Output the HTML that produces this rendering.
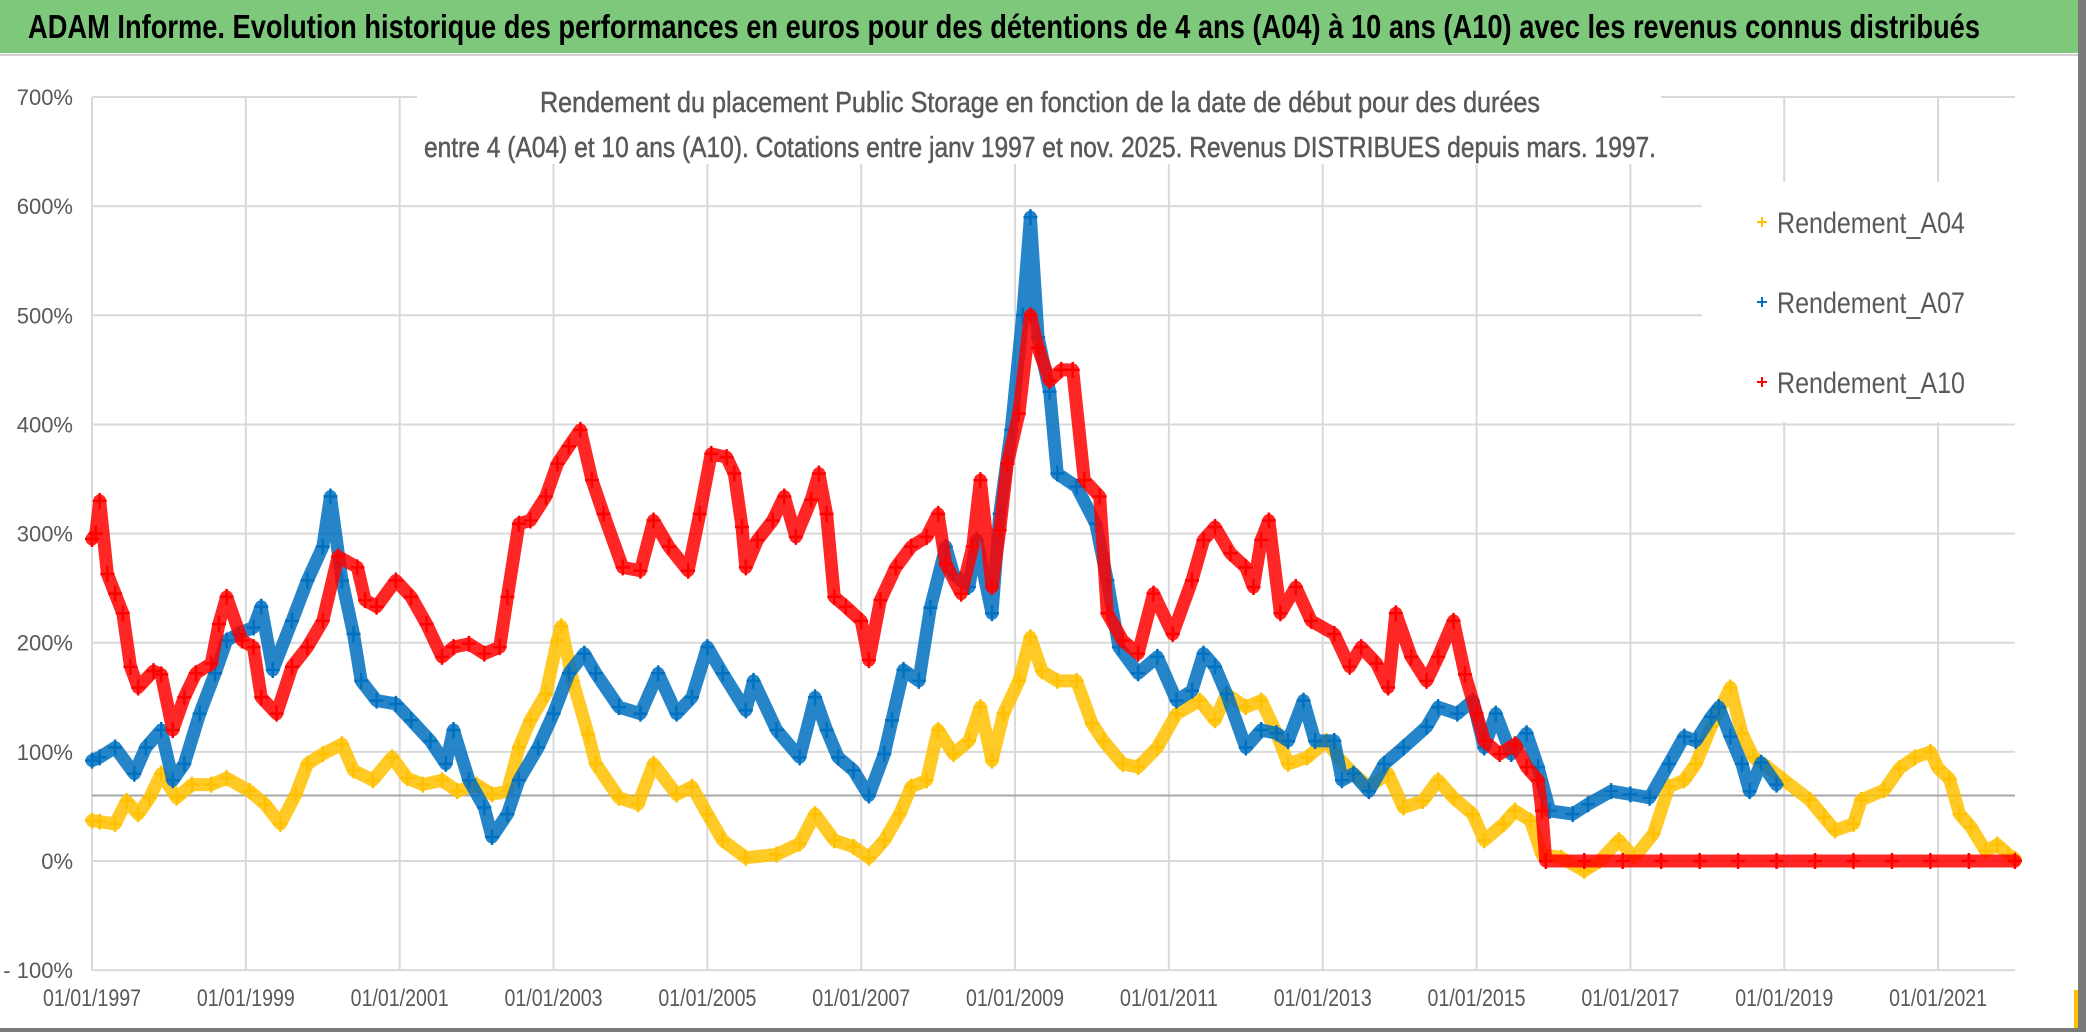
<!DOCTYPE html>
<html><head><meta charset="utf-8"><style>
html,body{margin:0;padding:0;background:#fff;}
svg{display:block;}
text{font-family:"Liberation Sans",sans-serif;}
</style></head><body>
<svg id="chart" width="2086" height="1032" viewBox="0 0 2086 1032">
<rect x="0" y="0" width="2086" height="1032" fill="#ffffff"/>
<rect x="0" y="0" width="2086" height="53" fill="#7dc87b"/>
<line x1="0" y1="55" x2="2078" y2="55" stroke="#d0d0d0" stroke-width="2"/>
<text x="28" y="38" font-size="33" font-weight="bold" fill="#000" textLength="1952" lengthAdjust="spacingAndGlyphs">ADAM Informe. Evolution historique des performances en euros pour des détentions de 4 ans (A04) à 10 ans (A10) avec les revenus connus distribués</text>
<rect x="2078" y="0" width="8" height="1032" fill="#7a7a7a"/>
<rect x="2074" y="990" width="4" height="38" fill="#ffc000"/>
<rect x="0" y="1028" width="2086" height="4" fill="#7a7a7a"/>
<g id="grid"></g>
<g id="series"></g>
<rect x="417" y="80" width="1244" height="84" fill="#fff"/>
<text x="1040" y="112" text-anchor="middle" font-size="29" fill="#595959" stroke="#595959" stroke-width="0.5" textLength="1000" lengthAdjust="spacingAndGlyphs">Rendement du placement Public Storage en fonction de la date de début pour des durées</text>
<text x="1040" y="157" text-anchor="middle" font-size="29" fill="#595959" stroke="#595959" stroke-width="0.5" textLength="1232" lengthAdjust="spacingAndGlyphs">entre 4 (A04) et 10 ans (A10). Cotations entre janv 1997 et nov. 2025. Revenus DISTRIBUES depuis mars. 1997.</text>
<g id="axes"></g>
<rect x="1702" y="182" width="313" height="240" fill="#fff"/>
<g id="legend"></g>
</svg>
<script>
const yTicks = [-100,0,100,200,300,400,500,600,700];
const yTickLabels = ["- 100%","0%","100%","200%","300%","400%","500%","600%","700%"];
const xTicks = [1997,1999,2001,2003,2005,2007,2009,2011,2013,2015,2017,2019,2021];
const xTickLabels = ["01/01/1997","01/01/1999","01/01/2001","01/01/2003","01/01/2005","01/01/2007","01/01/2009","01/01/2011","01/01/2013","01/01/2015","01/01/2017","01/01/2019","01/01/2021"];
const seriesNames = ["Rendement_A04","Rendement_A07","Rendement_A10"];
const refLineValue = 60;

const a04Years = [1997.0,1997.1,1997.3,1997.45,1997.6,1997.75,1997.9,1998.1,1998.3,1998.55,1998.75,1999.05,1999.25,1999.45,1999.65,1999.8,2000.0,2000.25,2000.4,2000.65,2000.9,2001.1,2001.3,2001.55,2001.75,2002.0,2002.2,2002.4,2002.55,2002.7,2002.9,2003.05,2003.1,2003.25,2003.45,2003.55,2003.85,2004.1,2004.3,2004.6,2004.8,2005.0,2005.2,2005.5,2005.9,2006.2,2006.4,2006.65,2006.9,2007.1,2007.3,2007.5,2007.65,2007.85,2008.0,2008.2,2008.4,2008.55,2008.7,2008.85,2009.05,2009.2,2009.35,2009.55,2009.8,2010.0,2010.15,2010.4,2010.6,2010.85,2011.1,2011.4,2011.6,2011.75,2012.0,2012.2,2012.4,2012.55,2012.8,2013.05,2013.2,2013.4,2013.6,2013.85,2014.05,2014.3,2014.5,2014.7,2014.95,2015.1,2015.35,2015.5,2015.7,2015.85,2016.1,2016.4,2016.6,2016.85,2017.05,2017.3,2017.5,2017.7,2017.85,2018.05,2018.3,2018.45,2018.6,2018.8,2019.0,2019.33,2019.52,2019.66,2019.9,2020.0,2020.3,2020.5,2020.7,2020.9,2021.0,2021.15,2021.28,2021.43,2021.62,2021.77,2021.91,2022.0];
const a04Values = [37,36,34,55,43,58,80,58,70,70,76,64,52,34,61,89,98,107,83,74,95,76,70,74,64,70,61,64,104,129,153,202,215,165,116,89,58,52,89,61,68,43,19,3,6,16,43,19,13,3,19,43,68,74,120,98,110,141,92,135,165,205,174,165,165,126,110,89,86,104,135,147,129,153,141,147,117,89,95,110,95,80,68,80,49,55,74,58,43,19,34,46,37,6,3,-9,0,19,3,25,68,74,89,123,159,117,95,85,74,56,40,28,34,56,65,85,95,100,85,75,43,31,9,15,6,2];

const a07Years = [1997.0,1997.1,1997.3,1997.55,1997.7,1997.9,1998.05,1998.2,1998.4,1998.6,1998.75,1998.9,1999.1,1999.2,1999.35,1999.6,1999.8,2000.0,2000.1,2000.25,2000.4,2000.5,2000.7,2000.95,2001.15,2001.4,2001.6,2001.7,2001.9,2002.1,2002.2,2002.4,2002.55,2002.8,2003.0,2003.2,2003.4,2003.55,2003.85,2004.13,2004.36,2004.6,2004.8,2005.0,2005.2,2005.5,2005.6,2005.9,2006.2,2006.4,2006.55,2006.7,2006.9,2007.1,2007.3,2007.4,2007.55,2007.75,2007.9,2008.1,2008.2,2008.4,2008.5,2008.7,2008.8,2008.95,2009.1,2009.2,2009.3,2009.45,2009.55,2009.8,2010.05,2010.2,2010.35,2010.6,2010.85,2011.1,2011.3,2011.45,2011.6,2011.75,2012.0,2012.2,2012.4,2012.55,2012.75,2012.9,2013.15,2013.25,2013.4,2013.6,2013.8,2014.05,2014.35,2014.5,2014.75,2014.95,2015.1,2015.25,2015.45,2015.65,2015.8,2015.95,2016.25,2016.45,2016.75,2017.0,2017.25,2017.5,2017.7,2017.85,2018.05,2018.15,2018.3,2018.45,2018.55,2018.7,2018.9];
const a07Values = [92,95,104,80,104,120,74,89,135,172,202,208,214,233,175,220,257,288,334,257,208,165,147,144,129,110,89,120,74,49,22,43,74,104,135,172,190,172,141,135,172,135,150,196,172,138,165,120,95,150,120,95,83,60,98,129,175,165,232,288,263,251,294,227,318,395,500,590,480,430,355,343,309,257,196,172,187,147,156,190,178,153,104,120,117,110,147,110,110,74,80,64,89,104,123,141,135,147,104,135,98,117,86,46,43,52,64,61,58,89,114,110,132,141,114,89,64,90,70];

const a10Years = [1997.0,1997.05,1997.1,1997.2,1997.3,1997.4,1997.5,1997.6,1997.8,1997.9,1998.05,1998.2,1998.35,1998.55,1998.65,1998.75,1998.95,1999.1,1999.2,1999.4,1999.6,1999.8,2000.0,2000.2,2000.45,2000.55,2000.7,2000.95,2001.15,2001.35,2001.55,2001.7,2001.9,2002.1,2002.3,2002.4,2002.55,2002.7,2002.9,2003.05,2003.2,2003.35,2003.5,2003.65,2003.9,2004.13,2004.3,2004.5,2004.75,2004.9,2005.05,2005.25,2005.35,2005.45,2005.5,2005.65,2005.85,2006.0,2006.15,2006.35,2006.45,2006.55,2006.65,2006.8,2007.0,2007.1,2007.25,2007.45,2007.65,2007.85,2008.0,2008.1,2008.3,2008.45,2008.55,2008.7,2008.8,2008.9,2009.05,2009.2,2009.3,2009.45,2009.6,2009.75,2009.9,2010.1,2010.2,2010.4,2010.6,2010.8,2011.05,2011.3,2011.45,2011.6,2011.8,2012.0,2012.1,2012.2,2012.3,2012.45,2012.65,2012.85,2013.15,2013.35,2013.5,2013.7,2013.85,2013.95,2014.15,2014.35,2014.5,2014.7,2014.85,2015.0,2015.1,2015.3,2015.5,2015.65,2015.8,2015.85,2015.9,2016.4,2016.9,2017.4,2017.9,2018.4,2018.9,2019.4,2019.9,2020.4,2020.9,2021.4,2022.0];
const a10Values = [295,300,330,263,245,227,178,159,174,171,120,150,172,181,217,242,202,196,150,135,178,196,220,279,269,239,233,257,242,217,187,196,199,190,196,242,309,312,334,364,380,395,349,318,269,266,312,288,266,318,373,370,355,306,269,294,312,334,297,331,355,318,242,233,220,184,239,269,288,297,318,272,245,288,349,251,303,364,410,500,470,440,450,450,349,334,227,202,190,245,208,257,294,306,282,269,251,294,312,227,251,220,208,178,196,181,159,227,187,165,187,220,171,135,110,98,107,86,74,46,0,0,0,0,0,0,0,0,0,0,0,0,0];

const NS = "http://www.w3.org/2000/svg";
const X0 = 92, PXY = 76.92, Y0 = 861, PXV = 1.0914;
const xScale = yr => X0 + (yr - 1997) * PXY;
const yScale = v => Y0 - v * PXV;
const XR = xScale(2022.0);
function mk(tag, attrs, parent){const e=document.createElementNS(NS,tag);for(const k in attrs)e.setAttribute(k,attrs[k]);parent.appendChild(e);return e;}

const grid = document.getElementById('grid');
const axes = document.getElementById('axes');
yTicks.forEach((v,i)=>{
  const l = mk('line',{x1:X0,x2:XR,y1:yScale(v),y2:yScale(v),stroke:'#d9d9d9','stroke-width':2},grid);
  
  
  const t = mk('text',{x:73,y:yScale(v)+8,'text-anchor':'end','font-size':22,fill:'#595959'},axes);
  t.textContent = yTickLabels[i];
  
  
});
xTicks.forEach((yr,i)=>{
  const l = mk('line',{x1:xScale(yr),x2:xScale(yr),y1:yScale(700),y2:yScale(-100),stroke:'#d9d9d9','stroke-width':2},grid);
  
  
  const t = mk('text',{x:xScale(yr),y:1006,'text-anchor':'middle','font-size':24,fill:'#595959',textLength:98,lengthAdjust:'spacingAndGlyphs'},axes);
  t.textContent = xTickLabels[i];
  
  
});
const rl = mk('line',{x1:X0,x2:XR,y1:yScale(refLineValue),y2:yScale(refLineValue),stroke:'#a6a6a6','stroke-width':2},grid);



const seriesG = document.getElementById('series');
function drawSeries(years, vals, color, name){
  const g = mk('g',{},seriesG);
  
  
  const pts = years.map((y,i)=>xScale(y).toFixed(1)+','+yScale(vals[i]).toFixed(1)).join(' ');
  const pl = mk('polyline',{points:pts,fill:'none',stroke:color,'stroke-width':13,'stroke-linejoin':'round','stroke-linecap':'round','stroke-opacity':0.85},g);
  
  
  years.forEach((y,i)=>{
    const cx=xScale(y), cy=yScale(vals[i]);
    const p = mk('path',{d:`M${cx-7},${cy}h14M${cx},${cy-8}v16`,stroke:color,'stroke-width':2.5},g);
    
    
  });
}
drawSeries(a04Years,a04Values,'#ffc000','series-a04');
drawSeries(a07Years,a07Values,'#0070c0','series-a07');
drawSeries(a10Years,a10Values,'#ff0000','series-a10');

const legend = document.getElementById('legend');
const legColors = ['#ffc000','#0070c0','#ff0000'];
seriesNames.forEach((n,i)=>{
  const cy = 222 + i*80;
  const m = mk('path',{d:`M1757,${cy}h10M1762,${cy-5}v10`,stroke:legColors[i],'stroke-width':2},legend);
  
  
  const t = mk('text',{x:1777,y:cy+11,'font-size':30,fill:'#595959',textLength:188,lengthAdjust:'spacingAndGlyphs'},legend);
  t.textContent = n;
  
  
});
</script>
</body></html>
